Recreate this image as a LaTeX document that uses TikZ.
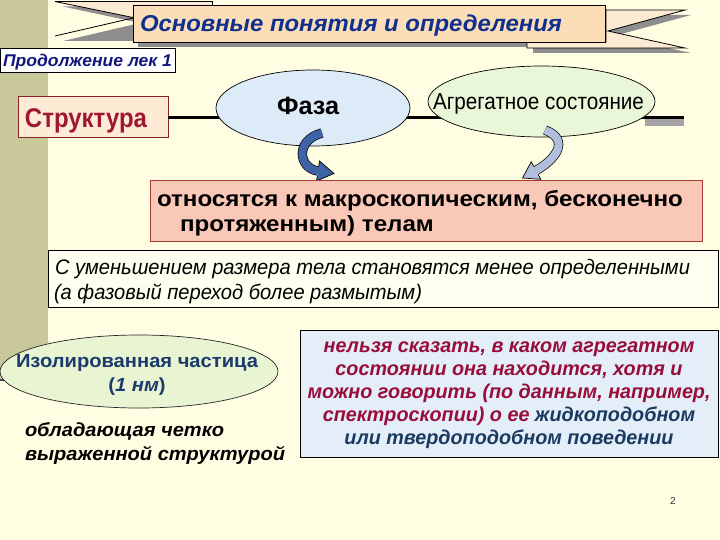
\documentclass[tikz,border=0pt]{standalone}
\usepackage{fontspec}
\setmainfont{Liberation Sans}
\usetikzlibrary{calc,shapes.geometric}
\definecolor{bg}{HTML}{FFFEE3}
\definecolor{strip}{HTML}{C8C89A}
\definecolor{peach}{HTML}{FBDDB8}
\definecolor{earfill}{HTML}{FCEBD2}
\definecolor{shad}{HTML}{8E8E8E}
\definecolor{ttl}{HTML}{10308E}
\definecolor{prod}{HTML}{12187A}
\definecolor{strfill}{HTML}{FDEBD6}
\definecolor{strbord}{HTML}{8A2020}
\definecolor{strtxt}{HTML}{A0182E}
\definecolor{fazafill}{HTML}{DDEBF8}
\definecolor{aggfill}{HTML}{EAF6D8}
\definecolor{izfill}{HTML}{E8F4D2}
\definecolor{iztxt}{HTML}{1C3A6C}
\definecolor{pinkfill}{HTML}{F9C8B6}
\definecolor{pinkbord}{HTML}{A83A30}
\definecolor{wfill}{HTML}{FFFFF0}
\definecolor{bluefill}{HTML}{E4EEF8}
\definecolor{redtxt}{HTML}{990D3B}
\definecolor{navytxt}{HTML}{1B3A60}
\definecolor{arrL}{HTML}{3E62A6}
\definecolor{arrR}{HTML}{B2BEDC}
\newlength\fitlen
\newcommand\fitx[2]{\settowidth\fitlen{#2}\pgfmathsetmacro\fitsc{#1/\fitlen}\scalebox{\fitsc}[1]{#2}}
\newcommand\fTitle{\fontsize{23}{27}\selectfont\bfseries\itshape}
\newcommand\fProd{\fontsize{17}{20}\selectfont\bfseries\itshape}
\newcommand\fStr{\fontsize{27}{31}\selectfont\bfseries}
\newcommand\fFaza{\fontsize{25}{29}\selectfont\bfseries}
\newcommand\fAgg{\fontsize{23}{27}\selectfont}
\newcommand\fPink{\fontsize{22}{26}\selectfont\bfseries}
\newcommand\fWhite{\fontsize{21}{25}\selectfont\itshape}
\newcommand\fIz{\fontsize{19}{22}\selectfont\bfseries}
\newcommand\fObl{\fontsize{19}{22}\selectfont\bfseries\itshape}
\newcommand\fBlue{\fontsize{20}{23}\selectfont\bfseries\itshape}
\begin{document}
\settowidth\fitlen{\fPink относятся к макроскопическим, бесконечно}%
\pgfmathsetmacro\scPink{526/\fitlen}%
\settowidth\fitlen{\fWhite С уменьшением размера тела становятся менее определенными}%
\pgfmathsetmacro\scWhite{635/\fitlen}%
\settowidth\fitlen{\fIz Изолированная частица}%
\pgfmathsetmacro\scIz{242/\fitlen}%
\settowidth\fitlen{\fObl выраженной структурой}%
\pgfmathsetmacro\scObl{260/\fitlen}%
\settowidth\fitlen{\fBlue можно говорить (по данным, например,}%
\pgfmathsetmacro\scBlue{403/\fitlen}%
\begin{tikzpicture}[x=1pt,y=-1pt,
  every node/.style={inner sep=0pt,outer sep=0pt},
  lbl/.style={anchor=base west},
  clbl/.style={anchor=base},
  boxstyle/.style={draw,anchor=north west,line width=0.8pt},
  ellstyle/.style={ellipse,draw,line width=0.7pt},
  arrbody/.style={line width=0.7pt,double distance=8pt}]
\useasboundingbox (0,0) rectangle (720,540);
\fill[bg] (0,0) rectangle (720,540);
\fill[strip] (0,0) rectangle (48,380);
\draw[line width=2pt,black!70] (0,380) -- (48,380);

% --- title ribbon ---
\fill[shad] (63,6.5) -- (220,6.5) -- (220,41) -- (63,41) -- (140,23) -- cycle;
\fill[shad] (533,15) -- (691,15) -- (614,36) -- (691,53) -- (533,53) -- cycle;
\fill[shad] (138,10) rectangle (610,47);
\fill[earfill] (55,1.5) -- (212,1.5) -- (212,6) -- (133,6) -- (133,17.5) -- cycle;
\draw[line width=0.8pt] (55,1.5) -- (212,1.5) -- (212,6);
\draw[line width=0.8pt] (55,1.5) -- (133,17.5);
\draw[line width=0.8pt] (55,36) -- (133,18);
\draw[fill=earfill,line width=0.8pt] (606,10) -- (685,10) -- (608,31) -- (685,48) -- (527,48) -- (527,42) -- (606,42) -- cycle;
\node[boxstyle,fill=peach,minimum width=472pt,minimum height=37pt] (tbox) at (133,5) {};
\node[lbl,text=ttl] (ttext) at (140,31.5) {\fTitle\fitx{422}{Основные понятия и определения}};

% --- Продолжение ---
\node[boxstyle,fill=white,minimum width=175pt,minimum height=24pt] (prodbox) at (0,48) {};
\node[lbl,text=prod] (prodtext) at (3,66.5) {\fProd\fitx{169}{Продолжение лек 1}};

% --- connector line ---
\fill[shad!80] (645,116) rectangle (684,126);
\node[boxstyle,draw=strbord,fill=strfill,line width=1pt,minimum width=150pt,minimum height=41pt] (strbox) at (18,97) {};
\coordinate (lineend) at (684,117.5);
\draw[line width=2.5pt] (strbox.east) -- (lineend);
\node[lbl,text=strtxt] (strtext) at (25,127.5) {\fStr\fitx{122}{Структура}};

% --- ellipses ---
\node[ellstyle,fill=fazafill,minimum width=194pt,minimum height=76pt] (faza) at (313,108) {};
\node[clbl] (fazatext) at (308,115) {\fFaza\fitx{62}{Фаза}};
\node[ellstyle,fill=aggfill,minimum width=227pt,minimum height=71pt] (agg) at (541.5,101.5) {};
\node[lbl] (aggtext) at (433,110) {\fAgg\fitx{211}{Агрегатное состояние}};

% --- curved arrows ---
\coordinate (laS) at (322,133);
\coordinate (laE) at (318,171);
\coordinate (laB1) at (319.5,161);
\coordinate (laB2) at (316.5,181);
\coordinate (laT) at (334,173.5);
\draw[arrbody,double=arrL] (laS) .. controls (295,140) and (298,168) .. (laE);
\fill[arrL] (laB1) -- (laT) -- (laB2) -- cycle;
\draw[line width=0.7pt] ($(laB1)!0.27!(laB2)$) -- (laB1) -- (laT) -- (laB2) -- ($(laB1)!0.73!(laB2)$);

\coordinate (raS) at (545,130);
\coordinate (raE) at (536,170.5);
\coordinate (raB1) at (540.8,179.3);
\coordinate (raB2) at (531.2,161.8);
\coordinate (raT) at (522.5,178);
\draw[arrbody,double=arrR] (raS) .. controls (571,140) and (555,160) .. (raE);
\fill[arrR] (raB1) -- (raT) -- (raB2) -- cycle;
\draw[line width=0.7pt] ($(raB1)!0.27!(raB2)$) -- (raB1) -- (raT) -- (raB2) -- ($(raB1)!0.73!(raB2)$);

% --- pink box ---
\node[boxstyle,draw=pinkbord,fill=pinkfill,minimum width=552pt,minimum height=61pt] (pinkbox) at (150,180) {};
\node[lbl] (pink1) at (157,207) {\fPink\scalebox{\scPink}[1]{относятся к макроскопическим, бесконечно}};
\node[lbl] (pink2) at (180,232) {\fPink\scalebox{\scPink}[1]{протяженным) телам}};

% --- white box ---
\node[boxstyle,fill=wfill,minimum width=670pt,minimum height=57pt] (whitebox) at (48,250) {};
\node[lbl] (white1) at (55,274.5) {\fWhite\scalebox{\scWhite}[1]{С уменьшением размера тела становятся менее определенными}};
\node[lbl] (white2) at (54,299) {\fWhite\scalebox{\scWhite}[1]{(а фазовый переход более размытым)}};

% --- isolated particle ---
\node[ellstyle,draw=black!85,fill=izfill,minimum width=278pt,minimum height=73pt] (iz) at (139,371.5) {};
\node[clbl,text=iztxt] (iz1) at (137,367.5) {\fIz\scalebox{\scIz}[1]{Изолированная частица}};
\node[clbl,text=iztxt] (iz2) at (137,391) {\fIz\scalebox{\scIz}[1]{(\textit{1 нм})}};

\node[lbl] (obl1) at (25,436) {\fObl\scalebox{\scObl}[1]{обладающая четко}};
\node[lbl] (obl2) at (25,460) {\fObl\scalebox{\scObl}[1]{выраженной структурой}};

% --- blue box ---
\node[boxstyle,fill=bluefill,minimum width=418pt,minimum height=127pt] (bluebox) at (300,330) {};
\node[clbl,text=redtxt] (blue1) at (509,352.5) {\fBlue\scalebox{\scBlue}[1]{нельзя сказать, в каком агрегатном}};
\node[clbl,text=redtxt] (blue2) at (509,375.5) {\fBlue\scalebox{\scBlue}[1]{состоянии она находится, хотя и}};
\node[clbl,text=redtxt] (blue3) at (509,398.5) {\fBlue\scalebox{\scBlue}[1]{можно говорить (по данным, например,}};
\node[clbl,text=redtxt] (blue4) at (509,421.5) {\fBlue\scalebox{\scBlue}[1]{спектроскопии) о ее \textcolor{navytxt}{жидкоподобном}}};
\node[clbl,text=navytxt] (blue5) at (509,444.5) {\fBlue\scalebox{\scBlue}[1]{или твердоподобном поведении}};

\node[clbl,text=black!80] (pagenum) at (673,504) {\fontsize{10}{12}\selectfont 2};
\end{tikzpicture}
\end{document}
